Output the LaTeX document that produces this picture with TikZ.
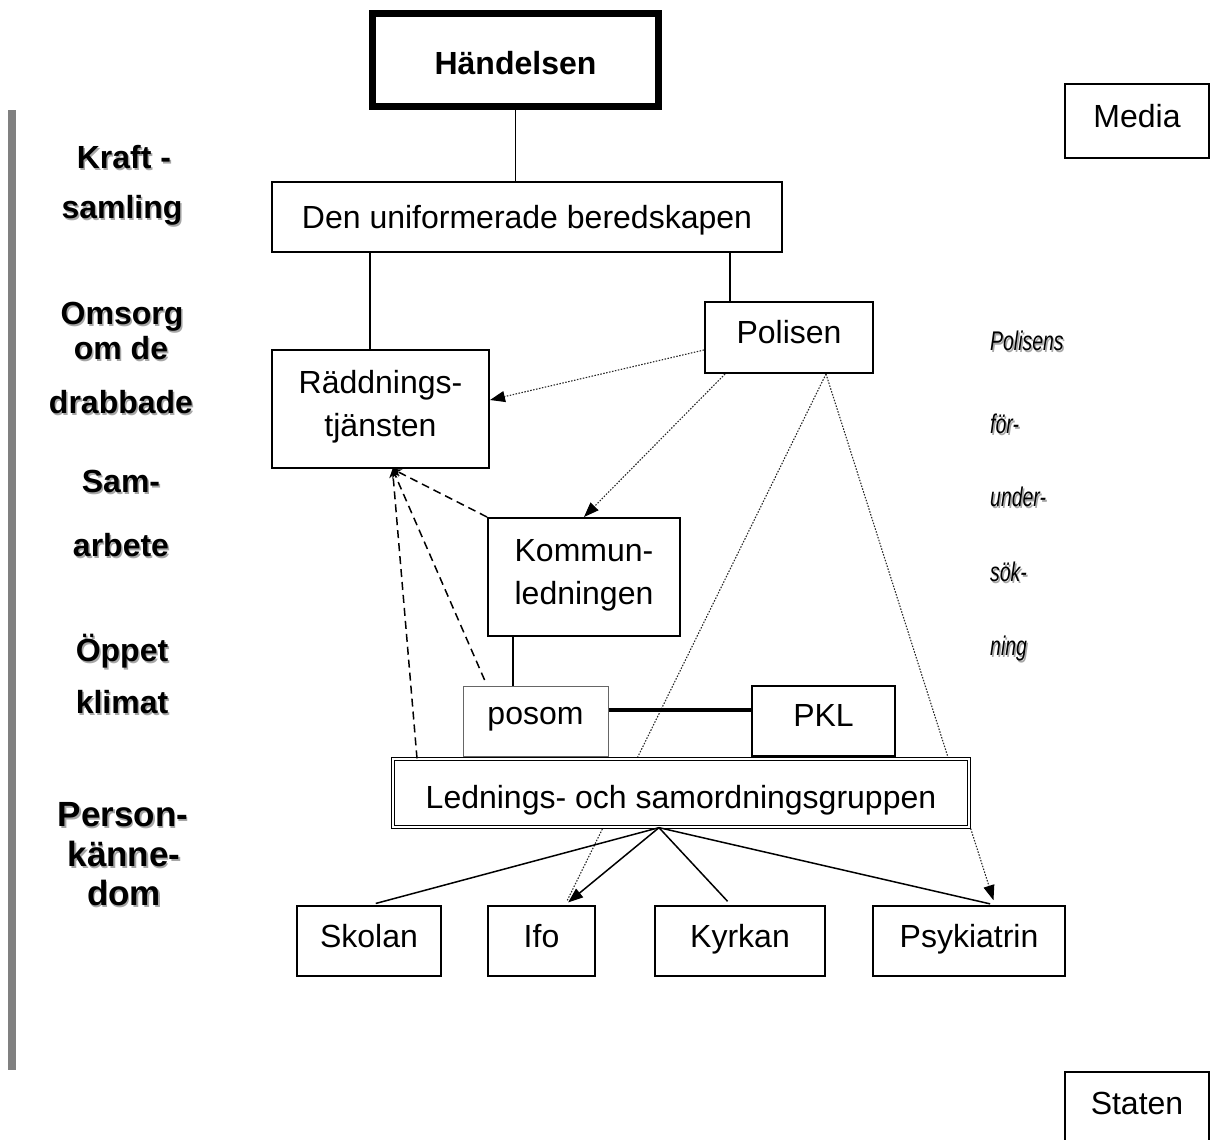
\documentclass[tikz,border=0pt]{standalone}
\usepackage{fontspec}
\setmainfont{Liberation Sans}
\newfontfamily\narrowfont[FakeStretch=0.72]{Liberation Sans}
\usetikzlibrary{arrows.meta,backgrounds}
\newcommand\shadowed[1]{\makebox[0pt][l]{\hspace{1.5pt}\raisebox{-1.5pt}{\textcolor{black!35}{#1}}}#1}

\begin{document}
\begin{tikzpicture}[x=1pt,y=-1pt,
    box/.style={draw,line width=2,inner sep=0,align=center,text depth=11pt,font=\fontsize{32}{43}\selectfont},
    phase/.style={inner sep=0,text height=23pt,text depth=0pt,font=\fontsize{32}{38}\selectfont\bfseries},
    bigphase/.style={phase,text height=25pt,font=\fontsize{35}{40}\selectfont\bfseries},
    fu/.style={inner sep=0,anchor=west,text height=19pt,text depth=0pt,font=\fontsize{27}{30}\selectfont\narrowfont\itshape},
    link/.style={line width=1.5},
    dashlink/.style={line width=1.5,dash pattern=on 8pt off 5pt,-{Stealth[length=9pt,width=8pt]}},
    dotlink/.style={draw=black!85,line width=1.1,dash pattern=on 1.5pt off 1.5pt},
    tip/.style={-{Triangle[length=15pt,width=11pt,color=black]}}
  ]
  \useasboundingbox (0,0) rectangle (1210,1140);
  \clip (0,0) rectangle (1210,1140);
  \fill[black!50] (8,110) rectangle (16,1070);

  % boxes
  \node[box,line width=7,text height=29pt,text depth=0pt,minimum width=286,minimum height=93,font=\fontsize{32}{43}\selectfont\bfseries] (handelsen) at (515.5,60) {Händelsen};
  \node[box,text height=23pt,text depth=0pt,minimum width=510,minimum height=70] (beredskap) at (527,217) {Den uniformerade beredskapen};
  \node[box,minimum width=168,minimum height=71] (polisen) at (789,337.5) {Polisen};
  \node[box,minimum width=217,minimum height=118] (raddning) at (380.5,409) {Räddnings-\\tjänsten};
  \node[box,minimum width=192,minimum height=118] (kommun) at (584,577) {Kommun-\\ledningen};
  \node[box,draw=black!60,line width=1,minimum width=145,minimum height=70] (posom) at (535.5,721) {posom};
  \node[box,minimum width=143,minimum height=70] (pkl) at (823.5,721) {PKL};
  \node[box,fill=white,line width=1.3,double,double distance=2,text height=31pt,text depth=0pt,minimum width=576,minimum height=68] (lsg) at (681,793) {Lednings- och samordningsgruppen};
  \node[box,minimum width=144,minimum height=70] (skolan) at (369,941) {Skolan};
  \node[box,minimum width=107,minimum height=70] (ifo) at (541.5,941) {Ifo};
  \node[box,minimum width=170,minimum height=70] (kyrkan) at (740,941) {Kyrkan};
  \node[box,minimum width=192,minimum height=70] (psyk) at (969,941) {Psykiatrin};
  \node[box,minimum width=144,minimum height=74] (media) at (1137,121) {Media};
  \draw[line width=2] (1065,1072) rectangle (1209,1160);
  \node[inner sep=0,text height=23pt,text depth=0pt,font=\fontsize{32}{38}\selectfont] (staten) at (1137,1103) {Staten};

  % phases
  \node[phase] (kraft) at (124,157) {\shadowed{Kraft -}};
  \node[phase] (samling) at (122,207) {\shadowed{samling}};
  \node[phase] (omsorg) at (122,313) {\shadowed{Omsorg}};
  \node[phase] (omde) at (121,348) {\shadowed{om de}};
  \node[phase] (drabbade) at (121,402) {\shadowed{drabbade}};
  \node[phase] (sam) at (121,481) {\shadowed{Sam-}};
  \node[phase] (arbete) at (121,545) {\shadowed{arbete}};
  \node[phase] (oppet) at (122,650) {\shadowed{Öppet}};
  \node[phase] (klimat) at (122,702) {\shadowed{klimat}};
  \node[bigphase] (person) at (123,814) {\shadowed{Person-}};
  \node[bigphase] (kanne) at (124,854) {\shadowed{känne-}};
  \node[bigphase] (dom) at (124,893) {\shadowed{dom}};

  % förundersökning
  \node[fu] (fu1) at (990,341) {\shadowed{Polisens}};
  \node[fu] (fu2) at (990,424) {\shadowed{för-}};
  \node[fu] (fu3) at (990,497) {\shadowed{under-}};
  \node[fu] (fu4) at (990,572) {\shadowed{sök-}};
  \node[fu] (fu5) at (990,646) {\shadowed{ning}};

  % solid links
  \draw[link] (handelsen.south) -- (handelsen.south |- beredskap.north);
  \draw[link] (beredskap.south -| 370,0) -- (raddning.north -| 370,0);
  \draw[link] (beredskap.south -| 730,0) -- (polisen.north -| 730,0);
  \draw[link] (kommun.south -| 513,0) -- (posom.north -| 513,0);
  \draw[line width=4] (posom.east |- 0,710) -- (pkl.west |- 0,710);
  \draw[link,shorten >=6] (lsg.south -| 659,0) -- (skolan.north -| 370,0);
  \draw[link,tip,shorten >=4] (lsg.south -| 659,0) -- (ifo.north -| 565,0);
  \draw[link,shorten >=5] (lsg.south -| 659,0) -- (kyrkan.north -| 731,0);
  \draw[link,shorten >=5] (lsg.south -| 659,0) -- (psyk.north -| 995,0);

  % dashed links
  \draw[dashlink] (kommun.north west) -- ([xshift=12]raddning.south);
  \draw[dashlink,shorten <=6] (posom.north -| 487,0) -- ([xshift=12]raddning.south);
  \draw[dashlink] (lsg.north -| 417,0) -- ([xshift=12]raddning.south);

  % police lines
  \begin{scope}[on background layer]
    \draw[dotlink,tip] (polisen.west |- 0,350) -- (raddning.east |- 0,400);
    \draw[dotlink,tip] (polisen.south -| 725,0) -- (kommun.north);
    \draw[dotlink,shorten >=4] (polisen.south -| 826,0) -- (ifo.north -| 565,0);
    \draw[dotlink,tip,shorten >=5] (polisen.south -| 826,0) -- (psyk.north -| 995,0);
  \end{scope}
\end{tikzpicture}
\end{document}
